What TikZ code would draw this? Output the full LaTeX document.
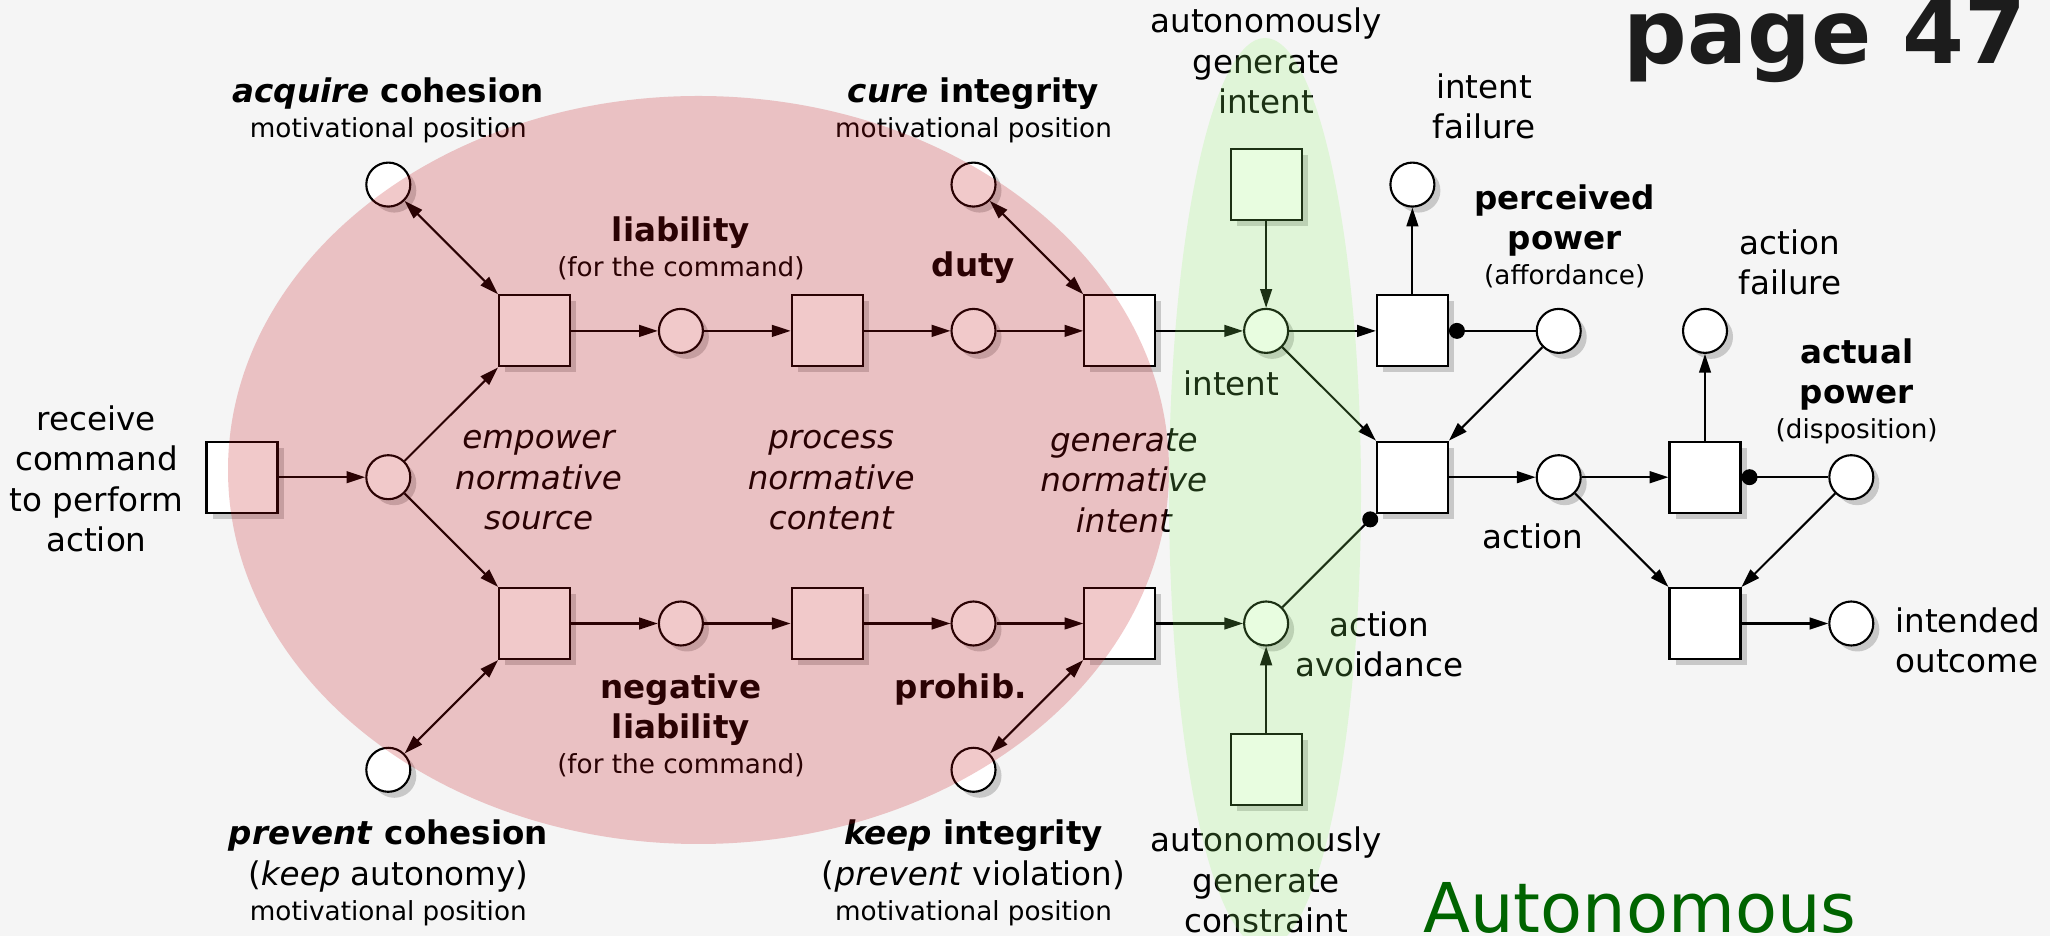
\documentclass[tikz,border=0pt]{standalone}
\usepackage{fontspec}
\setmainfont{DejaVu Sans}[BoldFont={DejaVu Sans Bold},
  ItalicFont={DejaVu Sans Oblique},BoldItalicFont={DejaVu Sans Bold Oblique}]
\usetikzlibrary{arrows.meta,calc,positioning,shadows}
\definecolor{canvas}{HTML}{F5F5F5}
\definecolor{normred}{RGB}{195,10,18}
\definecolor{autogreen}{RGB}{140,245,100}
\definecolor{autotext}{RGB}{0,100,0}
\definecolor{pagegray}{HTML}{1C1C1C}
\definecolor{shadowgray}{RGB}{200,200,200}
\newcommand{\mainsize}{\fontsize{13.9pt}{17.3pt}\selectfont}
\newcommand{\smallsize}{\fontsize{11.2pt}{14.9pt}\selectfont}

\begin{document}
\begin{tikzpicture}[
    node distance=2.1945cm and 2.1945cm,
    >={Triangle[length=8pt,width=5pt]},
    net/.style={draw, line width=0.9pt, fill=white, on grid,
                drop shadow={shadow xshift=0.09cm, shadow yshift=-0.09cm,
                             fill=shadowgray, opacity=1}},
    trans/.style={net, rectangle, minimum size=1.065cm, inner sep=0pt},
    place/.style={net, circle, minimum size=0.66cm, inner sep=0pt},
    lbl/.style={align=center, inner sep=0pt, font=\mainsize},
    mid/.style={lbl, font=\mainsize\itshape},
    arc/.style={->, line width=0.9pt},
    biarc/.style={<->, line width=0.9pt},
    inhib/.style={-{Circle[length=6.8pt]}, line width=0.9pt},
]
\useasboundingbox (-3.63,-6.882) rectangle (27.12,7.158);
\fill[canvas] (-3.63,-6.882) rectangle (27.12,7.158);

\node[trans] (recv) {};
\node[place, right=of recv] (src) {};
\node[trans, above right=of src] (lia) {};
\node[trans, below right=of src] (nlia) {};
\node[place, above left=of lia] (acq) {};
\node[place, below left=of nlia] (prev) {};
\node[place, right=of lia] (liab) {};
\node[trans, right=of liab] (cont) {};
\node[place, right=of cont] (duty) {};
\node[trans, right=of duty] (geni) {};
\node[place, above left=of geni] (cure) {};
\node[place, right=of geni] (intent) {};
\node[trans, above=of intent] (autoi) {};
\node[trans, right=of intent] (tfail) {};
\node[place, above=of tfail] (ifail) {};
\node[place, right=of tfail] (ppow) {};
\node[trans, below right=of intent] (tact) {};
\node[place, right=of tact] (action) {};
\node[trans, right=of action] (tafail) {};
\node[place, above=of tafail] (afail) {};
\node[place, right=of tafail] (apow) {};
\node[trans, below right=of action] (tout) {};
\node[place, right=of tout] (outc) {};
\node[place, right=of nlia] (nliab) {};
\node[trans, right=of nliab] (ncont) {};
\node[place, right=of ncont] (prohib) {};
\node[trans, right=of prohib] (gcon) {};
\node[place, below left=of gcon] (keep) {};
\node[place, right=of gcon] (avoid) {};
\node[trans, below=of avoid] (autoc) {};

\draw[arc] (recv) -- (src);
\draw[arc] (src) -- (lia);
\draw[arc] (src) -- (nlia);
\draw[biarc] (acq) -- (lia);
\draw[biarc] (prev) -- (nlia);
\draw[arc] (lia) -- (liab);
\draw[arc] (liab) -- (cont);
\draw[arc] (cont) -- (duty);
\draw[arc] (duty) -- (geni);
\draw[biarc] (cure) -- (geni);
\draw[arc] (geni) -- (intent);
\draw[arc] (autoi) -- (intent);
\draw[arc] (nlia) -- (nliab);
\draw[arc] (nliab) -- (ncont);
\draw[arc] (ncont) -- (prohib);
\draw[arc] (prohib) -- (gcon);
\draw[biarc] (keep) -- (gcon);
\draw[arc] (gcon) -- (avoid);
\draw[arc] (autoc) -- (avoid);
\draw[arc] (intent) -- (tfail);
\draw[arc] (tfail) -- (ifail);
\draw[inhib] (ppow) -- (tfail);
\draw[arc] (intent) -- (tact);
\draw[arc] (ppow) -- (tact);
\draw[inhib] (avoid) -- (tact.south west);
\draw[arc] (tact) -- (action);
\draw[arc] (action) -- (tafail);
\draw[arc] (tafail) -- (afail);
\draw[inhib] (apow) -- (tafail);
\draw[arc] (action) -- (tout);
\draw[arc] (apow) -- (tout);
\draw[arc] (tout) -- (outc);

\node[lbl, left=0.33cm of recv, yshift=-0.025cm] (recvlbl) {receive\\command\\to perform\\action};
\node[lbl, above=0.27cm of acq] (acqlbl) {\textbf{\textit{acquire} cohesion}\\[-2.4pt]{\smallsize motivational position}};
\node[lbl, above=0.27cm of cure] (curelbl) {\textbf{\textit{cure} integrity}\\[-2.4pt]{\smallsize motivational position}};
\node[lbl, above=0.405cm of liab] (liablbl) {\textbf{liability}\\[-2.4pt]{\smallsize (for the command)}};
\node[lbl, above=0.36cm of duty] (dutylbl) {\textbf{duty}};
\node[lbl, above=0.5cm of autoi] (autoilbl) {autonomously\\generate\\intent};
\node[lbl, above=0.33cm of ifail, xshift=1.075cm] (ifaillbl) {intent\\failure};
\node[lbl, above=0.285cm of ppow, xshift=0.09cm] (ppowlbl) {\textbf{perceived}\\\textbf{power}\\[-2.4pt]{\smallsize (affordance)}};
\node[lbl, above=0.185cm of afail, xshift=1.275cm] (afaillbl) {action\\failure};
\node[lbl, above=0.14cm of apow, xshift=0.08cm] (apowlbl) {\textbf{actual}\\\textbf{power}\\[-2.4pt]{\smallsize (disposition)}};
\node[lbl, below=0.245cm of intent, xshift=-0.52cm] (intentlbl) {intent};
\node[lbl, below=0.345cm of action, xshift=-0.39cm] (actionlbl) {action};
\node[lbl, right=0.09cm of avoid, yshift=-0.31cm] (avoidlbl) {action\\avoidance};
\node[lbl, align=left, right=0.31cm of outc, yshift=-0.255cm] (outclbl) {intended\\outcome};
\node[lbl, below=0.4cm of nliab] (nliablbl) {\textbf{negative}\\\textbf{liability}\\[-2.4pt]{\smallsize (for the command)}};
\node[lbl, below=0.4cm of prohib, xshift=-0.19cm] (prohiblbl) {\textbf{prohib.}};
\node[lbl, below=0.4cm of prev] (prevlbl) {\textbf{\textit{prevent} cohesion}\\(\textit{keep} autonomy)\\[-2.4pt]{\smallsize motivational position}};
\node[lbl, below=0.4cm of keep] (keeplbl) {\textbf{\textit{keep} integrity}\\(\textit{prevent} violation)\\[-2.4pt]{\smallsize motivational position}};
\node[lbl, below=0.3cm of autoc] (autoclbl) {autonomously\\generate\\constraint};
\node[mid, xshift=0.06cm, yshift=-0.05cm] (emplbl) at ($(lia)!0.5!(nlia)$) {empower\\normative\\source};
\node[mid, xshift=0.06cm, yshift=-0.05cm] (proclbl) at ($(cont)!0.5!(ncont)$) {process\\normative\\content};
\node[mid, xshift=0.06cm, yshift=-0.05cm] (genlbl) at ($(geni)!0.5!(gcon)$) {generate\\normative\\intent};

\node[font=\fontsize{38pt}{40pt}\selectfont\bfseries, text=pagegray,
      anchor=base west, inner sep=0pt] (pagelbl) at (20.72,6.2) {page 47};
\node[font=\fontsize{29.3pt}{32pt}\selectfont, text=autotext,
      anchor=base west, inner sep=0pt] (autolbl) at (17.715,-6.8325) {Autonomous};

\fill[normred, fill opacity=0.22] (6.8475,0.108) ellipse [x radius=7.0575cm, y radius=5.61cm];
\fill[autogreen, fill opacity=0.2] (15.345,-0.237) ellipse [x radius=1.44cm, y radius=6.825cm];
\end{tikzpicture}
\end{document}
